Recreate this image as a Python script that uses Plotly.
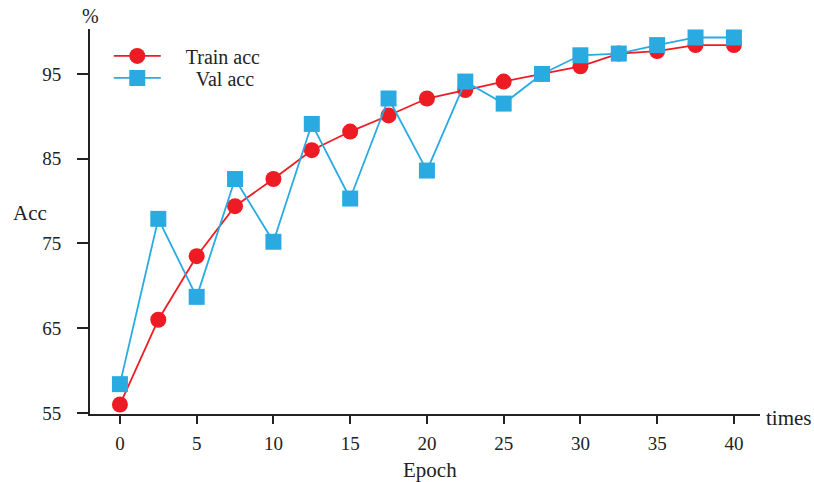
import plotly.graph_objects as go

epochs = [0, 2.5, 5, 7.5, 10, 12.5, 15, 17.5, 20, 22.5, 25, 27.5, 30, 32.5, 35, 37.5, 40]
train_acc = [56.0, 66.0, 73.5, 79.4, 82.6, 86.0, 88.2, 90.1, 92.1, 93.1, 94.1, 95.0, 95.9, 97.4, 97.7, 98.4, 98.4]
val_acc = [58.4, 77.9, 68.7, 82.6, 75.2, 89.1, 80.3, 92.1, 83.6, 94.1, 91.5, 95.0, 97.2, 97.4, 98.4, 99.3, 99.3]
x_ticks = [0, 5, 10, 15, 20, 25, 30, 35, 40]
y_ticks = [55, 65, 75, 85, 95]
series_names = ["Train acc", "Val acc"]

RED = "#ED1C24"
BLUE = "#29ABE2"
FONT = "Liberation Serif"
NB = "\u00a0"

fig = go.Figure()
fig.add_trace(go.Scatter(
    x=epochs, y=train_acc, mode="lines+markers", name=NB * 4 + series_names[0],
    line=dict(color=RED, width=1.8),
    marker=dict(symbol="circle", size=16, color=RED),
    legend="legend",
))
fig.add_trace(go.Scatter(
    x=epochs, y=val_acc, mode="lines+markers", name=NB * 6 + series_names[1],
    line=dict(color=BLUE, width=1.8),
    marker=dict(symbol="square", size=16, color=BLUE),
    legend="legend2",
))

axis_common = dict(
    showline=True, linecolor="#222", linewidth=2, mirror=False,
    ticks="outside", tickcolor="#222", tickwidth=1.5,
    showgrid=False, zeroline=False,
    tickfont=dict(family=FONT, size=19, color="#222"),
)

legend_common = dict(
    x=0.028, xanchor="left", yanchor="middle",
    bgcolor="rgba(0,0,0,0)", itemwidth=47,
    font=dict(family=FONT, size=20, color="#222"),
)

fig.update_layout(
    width=814, height=482,
    margin=dict(l=90, r=54, t=29, b=68),
    paper_bgcolor="white", plot_bgcolor="white",
    font=dict(family=FONT, size=19, color="#222"),
    xaxis=dict(range=[-1.95, 41.7], tickvals=x_ticks, ticklen=8,
               ticklabelstandoff=3, **axis_common),
    yaxis=dict(range=[54.88, 100.3], tickvals=y_ticks, ticklen=11,
               ticklabelstandoff=12, **axis_common),
    legend=dict(y=0.930, **legend_common),
    legend2=dict(y=0.873, **legend_common),
    showlegend=True,
    annotations=[
        dict(text="%", x=0, y=1, xref="paper", yref="paper", xanchor="center",
             yanchor="bottom", yshift=0, showarrow=False,
             font=dict(family=FONT, size=20, color="#222")),
        dict(text="Acc", x=-0.0896, y=0.522, xref="paper", yref="paper",
             xanchor="center", yanchor="middle", showarrow=False,
             font=dict(family=FONT, size=21, color="#222")),
        dict(text="times", x=1, y=0, xref="paper", yref="paper", xanchor="left",
             yanchor="middle", xshift=4, yshift=-4, showarrow=False,
             font=dict(family=FONT, size=21, color="#222")),
        dict(text="Epoch", x=(20 + 1.95) / 43.65 + 0.005, y=0, xref="paper", yref="paper",
             xanchor="center", yanchor="top", yshift=-42, showarrow=False,
             font=dict(family=FONT, size=21, color="#222")),
    ],
)

fig.write_html("out.html")
